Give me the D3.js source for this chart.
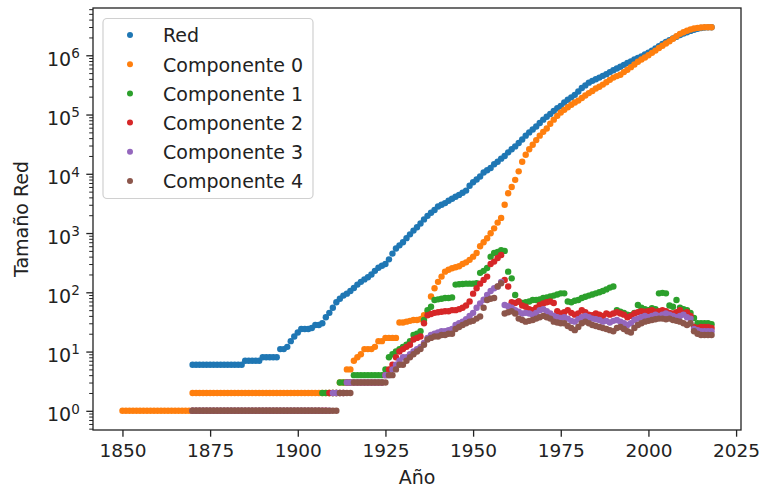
<html>
  <!DOCTYPE html>
  <meta charset="utf-8" />
  <style>
    body {
      margin: 0;
      background: #fff;
    }
    text {
      font-family: "DejaVu Sans", sans-serif;
      fill: #222;
    }
  </style>

  <body>
    <script src="https://d3js.org/d3.v7.min.js"></script>

    <script>
      let width = 759,
        height = 490;

      let margin = { top: 8, right: 18, bottom: 60, left: 93 };

      // series names, in drawing order
      let seriesNames = [
        "Red",
        "Componente 0",
        "Componente 1",
        "Componente 2",
        "Componente 3",
        "Componente 4",
      ];
      let seriesColors = [
        "#1f77b4",
        "#ff7f0e",
        "#2ca02c",
        "#d62728",
        "#9467bd",
        "#8c564b",
      ];

      let xTicks = [1850, 1875, 1900, 1925, 1950, 1975, 2000, 2025];
      let yTicks = [1, 10, 100, 1000, 10000, 100000, 1000000];

      // one value per year, starting at the given year
      let redStart = 1870;
      let red = [
        6, 6, 6, 6, 6, 6, 6, 6, 6, 6,
        6, 6, 6, 6, 6, 7, 7, 7, 7, 7,
        8, 8, 8, 8, 8, 11, 11, 12, 15, 18,
        21, 24, 24, 24, 25, 28, 28, 30, 38, 45,
        55, 68, 78, 88, 95, 105, 118, 135, 150, 165,
        180, 200, 230, 260, 280, 300, 360, 450, 550, 620,
        700, 820, 950, 1100, 1250, 1450, 1700, 1950, 2200, 2450,
        2800, 3000, 3200, 3500, 3800, 4100, 4400, 4800, 5200, 6300,
        7200, 8000, 9000, 10500, 11500, 12500, 14500, 16000, 18000, 20000,
        23000, 26000, 29000, 33000, 38000, 44000, 50000, 56000, 63000, 72000,
        82000, 92000, 102000, 115000, 128000, 140000, 160000, 178000, 195000, 215000,
        245000, 280000, 310000, 345000, 370000, 395000, 420000, 450000, 480000, 520000,
        560000, 600000, 640000, 690000, 740000, 790000, 850000, 900000, 960000, 1030000,
        1110000, 1200000, 1300000, 1420000, 1550000, 1680000, 1800000, 1930000, 2050000, 2200000,
        2330000, 2450000, 2580000, 2700000, 2800000, 2880000, 2930000, 2960000, 2980000,
      ];

      let comp0Start = 1850;
      let comp0 = [
        1, 1, 1, 1, 1, 1, 1, 1, 1, 1,
        1, 1, 1, 1, 1, 1, 1, 1, 1, 1,
        2, 2, 2, 2, 2, 2, 2, 2, 2, 2,
        2, 2, 2, 2, 2, 2, 2, 2, 2, 2,
        2, 2, 2, 2, 2, 2, 2, 2, 2, 2,
        2, 2, 2, 2, 2, 2, 2, 2, 2, 2,
        2, 2, 3, 3, 5, 5, 7, 8, 9, 11,
        11, 11, 12, 15, 15, 17, 17, 17, 17, 31,
        31, 32, 33, 34, 34, 35, 41, 45, 85, 117,
        150, 184, 223, 240, 255, 265, 275, 300, 320, 353,
        400, 460, 600, 700, 815, 990, 1200, 1500, 1800, 3000,
        4700, 6000, 7900, 11000, 16000, 21000, 26000, 31000, 37000, 44000,
        51000, 58000, 70000, 82000, 95000, 108000, 120000, 133000, 146000, 160000,
        172000, 190000, 210000, 230000, 250000, 275000, 295000, 320000, 350000, 385000,
        420000, 445000, 470000, 520000, 570000, 630000, 700000, 780000, 850000, 920000,
        1000000, 1100000, 1200000, 1330000, 1450000, 1580000, 1720000, 1900000, 2100000, 2300000,
        2450000, 2600000, 2720000, 2830000, 2900000, 2950000, 2970000, 2980000, 2980000,
      ];

      let comp1Start = 1870;
      let comp1 = [
        1, 1, 1, 1, 1, 1, 1, 1, 1, 1,
        1, 1, 1, 1, 1, 1, 1, 1, 1, 1,
        1, 1, 1, 1, 1, 1, 1, 1, 1, 1,
        1, 1, 1, 1, 1, 1, 1, 2, 2, 2,
        2, 2, 3, 3, 3, 3, 4, 4, 4, 4,
        4, 4, 4, 4, 4, 5, 8, 9, 10, 11,
        12, 13, 15, 19, 20, 22, 34, 50, 57, 74,
        76, 78, 80, 80, 82, 135, 137, 138, 140, 140,
        140, 142, 213, 230, 257, 400, 460, 480, 515, 500,
        223, 172, 90, 70, 66, 68, 70, 74, 74, 76,
        80, 82, 85, 88, 92, 96, 96, 70, 68, 72,
        74, 80, 84, 88, 92, 96, 100, 105, 112, 120,
        125, 50, 47, 45, 42, 41, 45, 61, 55, 52,
        50, 54, 52, 96, 98, 96, 60, 57, 74, 55,
        52, 50, 45, 37, 30, 30, 30, 30, 29,
      ];

      let comp2Start = 1870;
      let comp2 = [
        1, 1, 1, 1, 1, 1, 1, 1, 1, 1,
        1, 1, 1, 1, 1, 1, 1, 1, 1, 1,
        1, 1, 1, 1, 1, 1, 1, 1, 1, 1,
        1, 1, 1, 1, 1, 1, 1, 1, 1, 2,
        2, 2, 2, 2, 3, 3, 3, 3, 3, 3,
        3, 3, 3, 3, 3, 4, 5, 6, 8, 10,
        11, 12, 13, 16, 17, 18, 30, 41, 43, 45,
        46, 47, 48, 48, 50, 50, 52, 55, 60, 70,
        95, 117, 140, 162, 184, 300, 330, 380, 425, 162,
        125, 68, 66, 70, 60, 57, 52, 50, 55, 61,
        65, 68, 70, 66, 48, 44, 46, 50, 45, 42,
        44, 50, 46, 42, 41, 44, 42, 40, 44, 42,
        44, 46, 44, 42, 38, 40, 44, 46, 48, 47,
        48, 50, 47, 48, 50, 48, 45, 44, 46, 50,
        44, 46, 40, 26, 25, 26, 26, 26, 25,
      ];

      let comp3Start = 1870;
      let comp3 = [
        1, 1, 1, 1, 1, 1, 1, 1, 1, 1,
        1, 1, 1, 1, 1, 1, 1, 1, 1, 1,
        1, 1, 1, 1, 1, 1, 1, 1, 1, 1,
        1, 1, 1, 1, 1, 1, 1, 1, 1, 1,
        2, 2, 2, 2, 3, 3, 3, 3, 3, 3,
        3, 3, 3, 3, 3, 4, 4, 5, 6, 7,
        8, 8, 9, 10, 11, 12, 14, 17, 19, 20,
        21, 22, 22, 23, 24, 28, 30, 32, 35, 40,
        45, 55, 65, 75, 90, 105, 117, 125, 150, 61,
        58, 55, 50, 47, 44, 45, 44, 42, 45, 50,
        52, 48, 44, 40, 38, 37, 38, 36, 33, 32,
        35, 38, 40, 38, 36, 35, 34, 32, 33, 31,
        33, 34, 32, 30, 28, 30, 34, 36, 38, 40,
        38, 40, 42, 40, 42, 44, 42, 40, 38, 40,
        42, 38, 36, 24, 23, 22, 22, 22, 22,
      ];

      let comp4Start = 1870;
      let comp4 = [
        1, 1, 1, 1, 1, 1, 1, 1, 1, 1,
        1, 1, 1, 1, 1, 1, 1, 1, 1, 1,
        1, 1, 1, 1, 1, 1, 1, 1, 1, 1,
        1, 1, 1, 1, 1, 1, 1, 1, 1, 1,
        1, 1, 2, 2, 2, 2, 3, 3, 3, 3,
        3, 3, 3, 3, 3, 3, 4, 4, 5, 6,
        6, 7, 8, 9, 10, 11, 13, 16, 17, 18,
        18, 19, 19, 20, 20, 24, 26, 28, 30, 32,
        33, 36, 39, 55, 74, 78, 80, 125, 142, 44,
        46, 48, 44, 36, 34, 32, 33, 34, 36, 38,
        40, 38, 36, 32, 31, 30, 30, 27, 25, 23,
        26, 30, 32, 30, 28, 27, 26, 25, 24, 23,
        22, 25, 26, 24, 22, 21, 25, 28, 30, 32,
        33, 34, 35, 36, 36, 35, 36, 34, 33, 32,
        30, 28, 30, 22, 20, 19, 19, 19, 19,
      ];

      let seriesValues = [red, comp0, comp1, comp2, comp3, comp4];
      let seriesStarts = [
        redStart,
        comp0Start,
        comp1Start,
        comp2Start,
        comp3Start,
        comp4Start,
      ];

      let series = seriesNames.map((name, i) => ({
        name: name,
        color: seriesColors[i],
        points: seriesValues[i].map((v, j) => ({
          year: seriesStarts[i] + j,
          value: v,
        })),
      }));

      let allPoints = series.flatMap((s) => s.points);

      let svg = d3
        .select("body")
        .append("svg")
        .attr("width", width)
        .attr("height", height);

      // matplotlib-like 5% margins (in log space for y)
      let xExt = d3.extent(allPoints, (d) => d.year);
      let xPad = (xExt[1] - xExt[0]) * 0.05;
      let x = d3
        .scaleLinear()
        .domain([xExt[0] - xPad, xExt[1] + xPad])
        .range([margin.left, width - margin.right]);

      let yExt = d3.extent(allPoints, (d) => Math.log10(d.value));
      let yPad = (yExt[1] - yExt[0]) * 0.05;
      let y = d3
        .scaleLog()
        .domain([Math.pow(10, yExt[0] - yPad), Math.pow(10, yExt[1] + yPad)])
        .range([height - margin.bottom, margin.top]);

      let tickLen = 6.7;

      function drawAxes() {
        let xAxis = svg
          .append("g")
          .attr("transform", `translate(0,${height - margin.bottom})`)
          .call(
            d3
              .axisBottom(x)
              .tickValues(xTicks)
              .tickSize(tickLen)
              .tickPadding(7.5)
              .tickFormat(d3.format("d"))
          );
        xAxis.select(".domain").remove();
        xAxis.selectAll("line").attr("stroke", "#222").attr("stroke-width", 1.3);
        xAxis
          .selectAll("text")
          .style("font-size", "18.5px")
          .attr("fill", "#222");

        // minor log ticks
        let minor = y
          .ticks()
          .filter((d) => Math.abs(Math.log10(d) - Math.round(Math.log10(d))) > 1e-6);
        let yMinor = svg
          .append("g")
          .attr("transform", `translate(${margin.left},0)`)
          .call(d3.axisLeft(y).tickValues(minor).tickSize(3.8).tickFormat(""));
        yMinor.select(".domain").remove();
        yMinor.selectAll("line").attr("stroke", "#222").attr("stroke-width", 1);

        let yAxis = svg
          .append("g")
          .attr("transform", `translate(${margin.left},0)`)
          .call(
            d3
              .axisLeft(y)
              .tickValues(yTicks)
              .tickSize(tickLen)
              .tickPadding(6.5)
              .tickFormat(() => "10")
          );
        yAxis.select(".domain").remove();
        yAxis.selectAll("line").attr("stroke", "#222").attr("stroke-width", 1.3);
        yAxis
          .selectAll("text")
          .style("font-size", "19px")
          .attr("fill", "#222")
          .attr("dy", 10)
          .append("tspan")
          .attr("dy", -7.7)
          .style("font-size", "13.5px")
          .text((d) => Math.round(Math.log10(d)));

        // frame
        svg
          .append("rect")
          .attr("x", margin.left)
          .attr("y", margin.top)
          .attr("width", width - margin.left - margin.right)
          .attr("height", height - margin.top - margin.bottom)
          .attr("fill", "none")
          .attr("stroke", "#222")
          .attr("stroke-width", 1.3);

        svg
          .append("text")
          .attr("x", (margin.left + width - margin.right) / 2)
          .attr("y", 484)
          .attr("text-anchor", "middle")
          .style("font-size", "19px")
          .text("Año");

        svg
          .append("text")
          .attr(
            "transform",
            `translate(28,${(margin.top + height - margin.bottom) / 2}) rotate(-90)`
          )
          .attr("text-anchor", "middle")
          .style("font-size", "19px")
          .text("Tamaño Red");
      }

      function drawPoints() {
        svg
          .append("g")
          .selectAll("g")
          .data(series)
          .join("g")
          .attr("fill", (d) => d.color)
          .selectAll("circle")
          .data((d) => d.points)
          .join("circle")
          .attr("cx", (d) => x(d.year))
          .attr("cy", (d) => y(d.value))
          .attr("r", 3.2);
      }

      function drawLegend() {
        let g = svg.append("g");
        g.append("rect")
          .attr("x", 103)
          .attr("y", 18.5)
          .attr("width", 210)
          .attr("height", 180)
          .attr("rx", 4)
          .attr("fill", "#fff")
          .attr("fill-opacity", 0.8)
          .attr("stroke", "#d0d0d0")
          .attr("stroke-width", 1.2);

        let rows = g
          .selectAll("g")
          .data(series)
          .join("g")
          .attr("transform", (d, i) => `translate(0,${35 + i * 29.2})`);

        rows
          .append("circle")
          .attr("cx", 130)
          .attr("cy", 0)
          .attr("r", 3)
          .attr("fill", (d) => d.color);

        rows
          .append("text")
          .attr("x", 163)
          .attr("y", 7.3)
          .style("font-size", "19px")
          .text((d) => d.name);
      }

      drawPoints();
      drawAxes();
      drawLegend();
    </script>
  </body>
</html>
